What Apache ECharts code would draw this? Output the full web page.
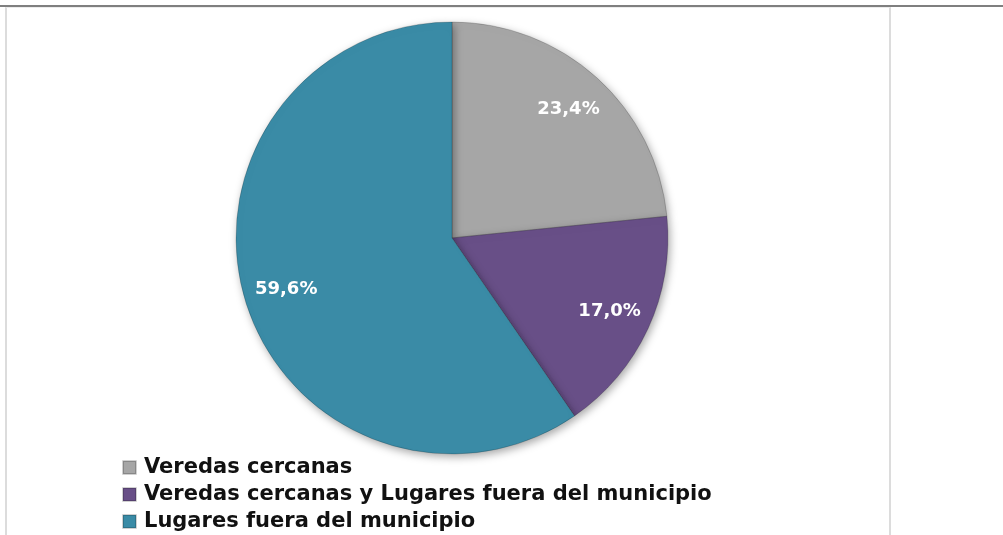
<!DOCTYPE html>
<html>
<head>
<meta charset="utf-8">
<script src="https://cdn.jsdelivr.net/npm/echarts@6/dist/echarts.min.js"></script>
<style>
  html, body { margin: 0; padding: 0; background: #fff; }
  #wrap { position: relative; width: 1003px; height: 535px; overflow: hidden; }
  #topline { position: absolute; left: 0; top: 5px; width: 1003px; height: 2px; background: #7f7f7f; }
  #frame { position: absolute; left: 5px; top: 7px; width: 882px; height: 540px;
           border-left: 2px solid #dcdcdc; border-right: 2px solid #dcdcdc; border-top: 1px solid #ececec; }
  #chart { position: absolute; left: 0; top: 0; width: 1003px; height: 535px; }
</style>
</head>
<body>
<div id="wrap">
  <div id="topline"></div>
  <div id="frame"></div>
  <div id="chart"></div>
</div>
<script>
// Categories and their shares (%)
const categories = [
  'Veredas cercanas',
  'Veredas cercanas y Lugares fuera del municipio',
  'Lugares fuera del municipio'
];
const values = [23.4, 17.0, 59.6];
const colors = ['#a6a6a6', '#684f87', '#3a8ba6'];

const fmt = v => v.toFixed(1).replace('.', ',') + '%';
const pieData = categories.map((name, i) => ({
  name, value: values[i], itemStyle: { color: colors[i] }
}));

const center = [452, 238];
const R = 216;

const chart = echarts.init(document.getElementById('chart'), null, { renderer: 'canvas' });
chart.setOption({
  animation: false,
  legend: {
    orient: 'vertical',
    left: 122,
    top: 457,
    padding: 0,
    itemWidth: 13,
    itemHeight: 13,
    itemGap: 6,
    icon: 'rect',
    data: categories,
    textStyle: {
      fontFamily: 'DejaVu Sans',
      fontWeight: 'bold',
      fontSize: 21,
      lineHeight: 21,
      padding: [0, 0, 0, 3],
      color: '#111'
    }
  },
  series: [
    {
      type: 'pie',
      center: center,
      radius: [0, R],
      startAngle: 90,
      clockwise: true,
      data: pieData,
      label: { show: false },
      labelLine: { show: false },
      itemStyle: {
        borderColor: 'rgba(0,0,0,0.18)',
        borderWidth: 1,
        shadowColor: 'rgba(0,0,0,0.35)',
        shadowBlur: 8,
        shadowOffsetX: 2,
        shadowOffsetY: 3
      },
      emphasis: { disabled: true }
    },
    {
      // transparent ring used only to place the percentage labels
      type: 'pie',
      center: center,
      radius: [R * 0.58, R],
      startAngle: 90,
      clockwise: true,
      silent: true,
      data: pieData.map(d => ({ name: d.name, value: d.value,
        itemStyle: { color: 'rgba(0,0,0,0)' } })),
      itemStyle: { color: 'rgba(0,0,0,0)' },
      label: {
        show: true,
        position: 'inside',
        formatter: p => fmt(p.value),
        color: '#fff',
        fontFamily: 'DejaVu Sans',
        fontWeight: 'bold',
        fontSize: 18
      },
      labelLine: { show: false },
      emphasis: { disabled: true }
    }
  ]
});
</script>
</body>
</html>
